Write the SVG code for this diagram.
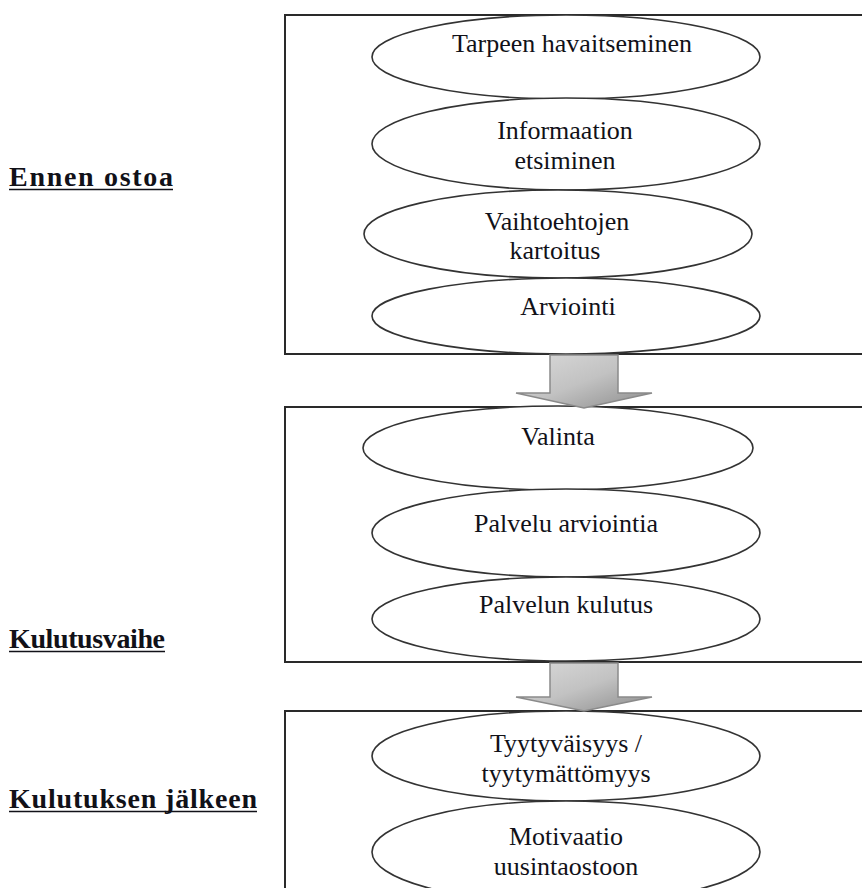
<svg xmlns="http://www.w3.org/2000/svg" width="862" height="888" viewBox="0 0 862 888">
<style>
.box{fill:none;stroke:#2a2a2a;stroke-width:2}
.ell{fill:#fff;stroke:#333;stroke-width:1.6}
.t{font-family:"Liberation Serif","Times New Roman",serif;font-size:26px;fill:#111118;text-anchor:middle}
.lbl{font-family:"Liberation Serif","Times New Roman",serif;font-size:28px;font-weight:bold;fill:#111118}
.ul{stroke:#111118;stroke-width:1.6}
.arr{fill:url(#ag);stroke:#8a8a8a;stroke-width:1.5}
</style>
<defs>
<linearGradient id="ag" x1="0" y1="0" x2="1" y2="1">
<stop offset="0" stop-color="#dadada"/>
<stop offset="0.5" stop-color="#c2c2c2"/>
<stop offset="1" stop-color="#8c8c8c"/>
</linearGradient>
</defs>
<rect width="862" height="888" fill="#fff"/>

<g id="phase-labels">
<g id="label-ennen">
<text class="lbl" x="9" y="186" textLength="164" lengthAdjust="spacing">Ennen ostoa</text>
<line class="ul" x1="9" y1="189.5" x2="173" y2="189.5"/>
</g>
<g id="label-kulutusvaihe">
<text class="lbl" x="9" y="648" textLength="156" lengthAdjust="spacing">Kulutusvaihe</text>
<line class="ul" x1="9" y1="651.5" x2="165" y2="651.5"/>
</g>
<g id="label-jalkeen">
<text class="lbl" x="9" y="808" textLength="248" lengthAdjust="spacing">Kulutuksen jälkeen</text>
<line class="ul" x1="9" y1="811.5" x2="257" y2="811.5"/>
</g>
</g>

<g id="box-ennen"><rect class="box" x="285" y="15" width="590" height="339"/></g>
<g id="box-kulutus"><rect class="box" x="285" y="407" width="590" height="255"/></g>
<g id="box-jalkeen"><rect class="box" x="285" y="711" width="590" height="200"/></g>

<g id="n-tarpeen">
<ellipse class="ell" cx="566" cy="57" rx="194" ry="42"/>
<text class="t" x="572" y="52">Tarpeen havaitseminen</text>
</g>
<g id="n-informaation">
<ellipse class="ell" cx="566" cy="144" rx="194" ry="46"/>
<text class="t" x="565" y="139">Informaation</text>
<text class="t" x="565" y="169">etsiminen</text>
</g>
<g id="n-vaihtoehtojen">
<ellipse class="ell" cx="558" cy="234" rx="194" ry="44"/>
<text class="t" x="557" y="230">Vaihtoehtojen</text>
<text class="t" x="555" y="259">kartoitus</text>
</g>
<g id="n-arviointi">
<ellipse class="ell" cx="566" cy="316" rx="194" ry="38"/>
<text class="t" x="568" y="315">Arviointi</text>
</g>

<g id="n-valinta">
<ellipse class="ell" cx="558" cy="448" rx="195" ry="42"/>
<text class="t" x="558" y="445">Valinta</text>
</g>
<g id="n-palvelu-arviointia">
<ellipse class="ell" cx="566" cy="533" rx="194" ry="44"/>
<text class="t" x="566" y="532">Palvelu arviointia</text>
</g>
<g id="n-palvelun-kulutus">
<ellipse class="ell" cx="566" cy="619" rx="194" ry="42"/>
<text class="t" x="566" y="613">Palvelun kulutus</text>
</g>

<g id="n-tyytyvaisyys">
<ellipse class="ell" cx="566" cy="756" rx="194" ry="45"/>
<text class="t" x="566" y="752">Tyytyväisyys /</text>
<text class="t" x="566" y="782">tyytymättömyys</text>
</g>
<g id="n-motivaatio">
<ellipse class="ell" cx="566" cy="852" rx="194" ry="51"/>
<text class="t" x="566" y="845">Motivaatio</text>
<text class="t" x="566" y="875">uusintaostoon</text>
</g>

<g id="connectors">
<path class="arr" d="M550,355 L618,355 L618,393 L652,393 L584,408 L516,393 L550,393 Z"/>
<path class="arr" d="M550,663 L618,663 L618,697 L652,697 L584,711 L516,697 L550,697 Z"/>
</g>
</svg>
